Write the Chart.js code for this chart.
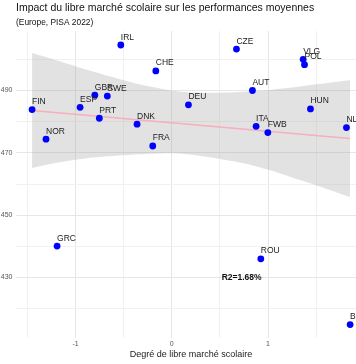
<!DOCTYPE html>
<html>
<head>
<meta charset="utf-8">
<script src="https://cdn.jsdelivr.net/npm/chart.js@4/dist/chart.umd.min.js"></script>
<style>
  html, body { margin: 0; padding: 0; background: #fff; overflow: hidden; }
  #wrap { width: 356px; height: 364px; overflow: hidden; position: relative; }
  canvas { display: block; }
</style>
</head>
<body>
<div id="wrap"><canvas id="c" width="372" height="364" style="width:372px;height:364px"></canvas></div>
<script>
// ---- data ----
const countries    = ['FIN','NOR','GRC','ESP','GBR','PRT','SWE','IRL','DNK','FRA','CHE','DEU','CZE','AUT','ITA','ROU','FWB','VLG','POL','HUN','NLD','BGR'];
const marketDegree = [-1.452,-1.307,-1.192,-0.953,-0.80,-0.753,-0.67,-0.53,-0.361,-0.198,-0.166,0.173,0.672,0.838,0.876,0.925,0.998,1.365,1.379,1.441,1.815,1.853];
const meanScore    = [483.9,474.4,440.1,484.6,488.5,481.1,488.2,504.6,479.2,472.2,496.3,485.4,503.3,490.0,478.5,436.0,476.5,500.0,498.3,484.1,478.1,414.9];

// fitted line and confidence ribbon
const fitX   = [-1.452, 1.853];
const fitY   = [483.6, 474.6];
const bandX     = [-1.452,-1.20,-0.90,-0.50,-0.20,0.10,0.50,0.90,1.35,1.853];
const bandUpper = [502.0, 499.7, 496.8, 493.3, 491.1, 489.6, 489.3, 489.9, 491.4, 493.3];
const bandLower = [465.1, 466.8, 468.2, 469.2, 469.7, 469.7, 468.0, 465.5, 461.1, 455.8];

const xTickLabels = [-1, 0, 1];
const yTickLabels = [430, 450, 470, 490];
const xGridValues = [-1.5, -1, -0.5, 0, 0.5, 1, 1.5, 2];
const yGridValues = [420, 430, 440, 450, 460, 470, 480, 490, 500];

const r2Text = 'R2=1.68%';
const r2At   = [0.726, 429.8];

const titleText    = 'Impact du libre marché scolaire sur les performances moyennes';
const subtitleText = '(Europe, PISA 2022)';
const xTitleText   = 'Degré de libre marché scolaire';

// ---- chart ----
const FONT = "'Liberation Sans', Arial, sans-serif";
Chart.defaults.font.family = FONT;

const zip = (xs, ys) => xs.map((x, i) => ({ x: x, y: ys[i] }));

const labelPlugin = {
  id: 'pointLabels',
  afterDatasetsDraw(chart) {
    const ctx = chart.ctx, xs = chart.scales.x, ys = chart.scales.y;
    ctx.save();
    ctx.font = '8.5px ' + FONT;
    ctx.fillStyle = '#222';
    ctx.textAlign = 'left';
    ctx.textBaseline = 'alphabetic';
    countries.forEach((c, i) => {
      ctx.fillText(c, xs.getPixelForValue(marketDegree[i]), ys.getPixelForValue(meanScore[i]) - 5.5);
    });
    ctx.font = 'bold 8.5px ' + FONT;
    ctx.fillStyle = '#111';
    ctx.textAlign = 'center';
    ctx.textBaseline = 'middle';
    ctx.fillText(r2Text, xs.getPixelForValue(r2At[0]), ys.getPixelForValue(r2At[1]));
    ctx.restore();
  }
};

new Chart(document.getElementById('c'), {
  type: 'scatter',
  data: {
    datasets: [
      {
        label: 'points',
        data: zip(marketDegree, meanScore),
        backgroundColor: '#0000ff',
        borderWidth: 0,
        pointRadius: 3.4,
        pointHoverRadius: 3.4
      },
      {
        type: 'line',
        label: 'fit',
        data: zip(fitX, fitY),
        borderColor: '#f7aebd',
        borderWidth: 1.5,
        pointRadius: 0,
        fill: false
      },
      {
        type: 'line',
        label: 'upper',
        data: zip(bandX, bandUpper),
        borderWidth: 0,
        borderColor: 'rgba(0,0,0,0)',
        pointRadius: 0,
        tension: 0.4,
        backgroundColor: 'rgba(160,160,160,0.3)',
        fill: '+1'
      },
      {
        type: 'line',
        label: 'lower',
        data: zip(bandX, bandLower),
        borderWidth: 0,
        borderColor: 'rgba(0,0,0,0)',
        pointRadius: 0,
        tension: 0.4,
        fill: false
      }
    ]
  },
  options: {
    responsive: false,
    animation: false,
    devicePixelRatio: 1,
    layout: { padding: { left: 0, right: 6, top: 0, bottom: 4.5 } },
    plugins: {
      legend: { display: false },
      tooltip: { enabled: false },
      title: {
        display: true, text: titleText, align: 'start', fullSize: false,
        color: '#111', font: { size: 10.5, weight: 'normal' },
        padding: { top: 1.7, bottom: 1 }
      },
      subtitle: {
        display: true, text: subtitleText, align: 'start', fullSize: false,
        color: '#111', font: { size: 8.4, weight: 'normal' },
        padding: { top: 2.2, bottom: 3.4 }
      }
    },
    scales: {
      x: {
        type: 'linear',
        min: -1.619, max: 2.018,
        afterBuildTicks: s => { s.ticks = xGridValues.map(v => ({ value: v })); },
        afterFit: s => { s.height = 21.5; },
        ticks: {
          callback: v => xTickLabels.includes(v) ? String(v) : '',
          font: { size: 7 }, color: '#555', padding: 2,
          maxRotation: 0, autoSkip: false
        },
        grid: {
          color: c => (c.tick && xTickLabels.includes(c.tick.value)) ? '#e6e6e6' : '#f1f1f1',
          lineWidth: 1, drawTicks: false
        },
        border: { display: false },
        title: {
          display: true, text: xTitleText, color: '#222',
          font: { size: 9 }, padding: { top: 0, bottom: 0 }
        }
      },
      y: {
        type: 'linear',
        min: 410.6, max: 509.1,
        afterBuildTicks: s => { s.ticks = yGridValues.map(v => ({ value: v })); },
        afterFit: s => { s.width = 16; },
        ticks: {
          callback: v => yTickLabels.includes(v) ? String(v) : '',
          font: { size: 7 }, color: '#555', padding: 3.5, autoSkip: false
        },
        grid: {
          color: c => (c.tick && yTickLabels.includes(c.tick.value)) ? '#e6e6e6' : '#f1f1f1',
          lineWidth: 1, drawTicks: false
        },
        border: { display: false }
      }
    }
  },
  plugins: [labelPlugin]
});
</script>
</body>
</html>
